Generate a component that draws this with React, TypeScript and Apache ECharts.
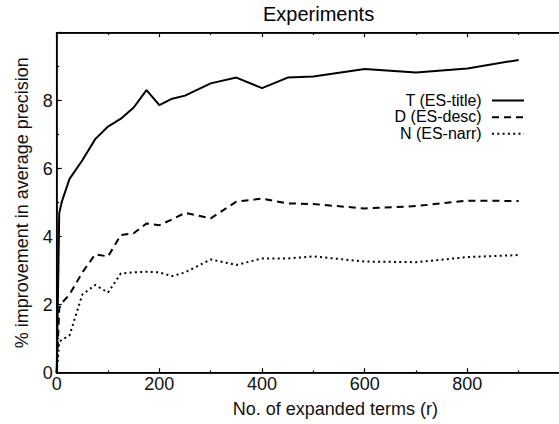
import React, { useEffect, useRef } from "react";
import * as echarts from "echarts";

// Number of expanded terms (r)
const termCounts = [0, 5, 10, 25, 50, 75, 100, 125, 150, 175, 200, 225, 250, 300, 350, 400, 450, 500, 600, 700, 800, 900];
// % improvement in average precision
const titleValues = [0, 4.7, 5.03, 5.7, 6.25, 6.87, 7.24, 7.47, 7.8, 8.31, 7.87, 8.06, 8.15, 8.51, 8.68, 8.37, 8.68, 8.71, 8.93, 8.83, 8.95, 9.2];
const descValues = [0, 1.9, 2.05, 2.3, 2.95, 3.48, 3.42, 4.05, 4.1, 4.39, 4.34, 4.51, 4.7, 4.54, 5.03, 5.12, 4.98, 4.96, 4.83, 4.9, 5.06, 5.05];
const narrValues = [0, 0.9, 0.97, 1.1, 2.3, 2.58, 2.36, 2.92, 2.95, 2.97, 2.95, 2.84, 2.95, 3.33, 3.17, 3.36, 3.36, 3.42, 3.27, 3.25, 3.4, 3.46];

const seriesNames = ["T (ES-title)", "D (ES-desc)", "N (ES-narr)"];
const chartTitle = "Experiments";
const xAxisName = "No. of expanded terms (r)";
const yAxisName = "% improvement in average precision";

const FONT = "'Liberation Sans', Arial, Helvetica, sans-serif";

export default function App() {
  const ref = useRef<HTMLDivElement>(null);
  useEffect(() => {
    if (!ref.current) return;
    const chart = echarts.init(ref.current, null, { renderer: "svg" });
    const pair = (ys: number[]) => termCounts.map((x, i) => [x, ys[i]]);
    const dashes: any[] = ["solid", [7, 5], [2, 3.3]];
    const valuesList = [titleValues, descValues, narrValues];

    const legendX = 481.7;
    const legendYs = [100, 116.7, 133.3];
    const legendGraphics: any[] = [];
    seriesNames.forEach((name, i) => {
      legendGraphics.push({
        type: "text",
        x: legendX,
        y: legendYs[i],
        style: {
          text: name,
          fontSize: 16,
          fontFamily: FONT,
          fill: "#000",
          align: "right",
          verticalAlign: "middle",
          textAlign: "right",
          textVerticalAlign: "middle",
        },
      });
      legendGraphics.push({
        type: "line",
        shape: { x1: 492, y1: legendYs[i] + 0.5, x2: 524, y2: legendYs[i] + 0.5 },
        style: {
          stroke: "#000",
          lineWidth: 2,
          lineDash: i === 0 ? null : dashes[i],
        },
      });
    });

    const axisText = { fontSize: 18, fontFamily: FONT, color: "#111" };

    chart.setOption({
      animation: false,
      backgroundColor: "#fff",
      title: {
        text: chartTitle,
        left: 263,
        top: 4,
        padding: 0,
        textStyle: { fontSize: 20, fontWeight: "normal", fontFamily: FONT, color: "#000" },
      },
      grid: {
        left: 56.7,
        top: 32.7,
        width: 513.3,
        height: 340,
        show: true,
        borderColor: "#000",
        borderWidth: 1.5,
        containLabel: false,
        outerBoundsMode: "none",
      },
      xAxis: [
        {
          type: "value",
          min: 0,
          max: 1000,
          interval: 200,
          name: xAxisName,
          nameLocation: "middle",
          nameGap: 27,
          nameTextStyle: { ...axisText, padding: [0, 0, 0, 44] },
          axisLine: { show: true, lineStyle: { color: "#000", width: 1.5 } },
          axisTick: { show: true, inside: true, length: 4.5, lineStyle: { color: "#000", width: 1.2 } },
          minorTick: { show: true, splitNumber: 2, length: 2.3, lineStyle: { color: "#000", width: 1.2 } },
          splitLine: { show: false },
          axisLabel: {
            ...axisText,
            margin: 2,
            formatter: (v: number) => (v >= 1000 ? "" : String(v)),
          },
        },
        {
          type: "value",
          position: "top",
          min: 0,
          max: 1000,
          interval: 200,
          axisLine: { show: true, lineStyle: { color: "#000", width: 1.5 } },
          axisTick: { show: true, inside: true, length: 4.5, lineStyle: { color: "#000", width: 1.2 } },
          minorTick: { show: true, splitNumber: 2, length: 2.3, lineStyle: { color: "#000", width: 1.2 } },
          splitLine: { show: false },
          axisLabel: { show: false },
        },
      ],
      yAxis: {
        type: "value",
        min: 0,
        max: 10,
        interval: 2,
        name: yAxisName,
        nameLocation: "middle",
        nameRotate: 90,
        nameGap: 26,
        nameTextStyle: axisText,
        axisLine: { show: true, lineStyle: { color: "#000", width: 1.5 } },
        axisTick: { show: true, inside: true, length: 5, lineStyle: { color: "#000", width: 1.2 } },
        minorTick: { show: true, splitNumber: 2, length: 2.5, lineStyle: { color: "#000", width: 1.2 } },
        splitLine: { show: false },
        axisLabel: {
          ...axisText,
          margin: 4,
          formatter: (v: number) => (v >= 10 ? "" : String(v)),
        },
      },
      series: seriesNames.map((name, i) => ({
        name,
        type: "line",
        xAxisIndex: 0,
        data: pair(valuesList[i]),
        symbol: "none",
        lineStyle: { color: "#000", width: 2, type: dashes[i], cap: "butt" },
        silent: true,
      })),
      graphic: legendGraphics,
    });
    return () => chart.dispose();
  }, []);
  return (
    <div
      ref={ref}
      style={{ position: "absolute", left: 0, top: 0, width: 559, height: 424 }}
    />
  );
}
